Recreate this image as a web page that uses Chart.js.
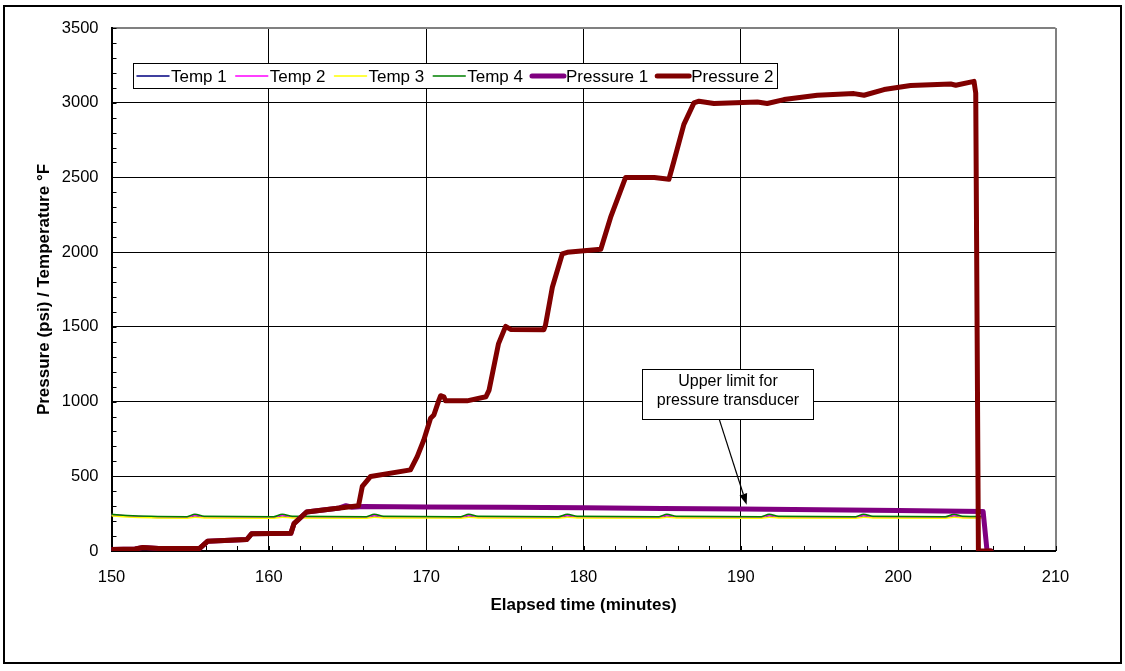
<!DOCTYPE html>
<html>
<head>
<meta charset="utf-8">
<script src="https://cdn.jsdelivr.net/npm/chart.js@4.4.0/dist/chart.umd.min.js"></script>
<style>
  html, body { margin: 0; padding: 0; background: #ffffff; }
  #wrap { width: 1125px; height: 671px; position: relative; }
</style>
</head>
<body>
<div id="wrap"><canvas id="chart" width="1125" height="671"></canvas></div>
<script>
// ---- data ----
const seriesNames = ['Temp 1', 'Temp 2', 'Temp 3', 'Temp 4', 'Pressure 1', 'Pressure 2'];

const tempTime = [150, 151, 152.5, 154.8, 155.3, 155.9, 160.3, 160.85, 161.5, 166.2, 166.7, 167.3,
  172.2, 172.7, 173.3, 178.4, 178.97, 179.6, 184.8, 185.3, 185.9, 191.3, 191.8, 192.4,
  197.3, 197.8, 198.4, 203.0, 203.55, 204.1, 205.5];
const temp1 = [240, 232, 226, 224, 236, 226, 224, 236, 226, 224, 236, 226, 224, 236, 226,
  224, 236, 226, 224, 236, 226, 224, 236, 226, 224, 236, 226, 224, 236, 226, 224];
const temp2 = [244, 234, 228, 226, 240, 228, 226, 240, 228, 226, 240, 228, 226, 240, 228,
  226, 240, 228, 226, 240, 228, 226, 240, 228, 226, 240, 228, 226, 240, 228, 226];
const temp3 = [236, 228, 222, 220, 226, 221, 220, 226, 221, 220, 226, 221, 220, 226, 221,
  220, 226, 221, 220, 226, 221, 220, 226, 221, 220, 226, 221, 220, 226, 221, 220];
const temp4 = [246, 238, 232, 230, 246, 232, 230, 246, 232, 230, 246, 232, 230, 246, 232,
  230, 246, 232, 230, 246, 232, 230, 246, 232, 230, 246, 232, 230, 246, 232, 230];

const p1Time = [150, 151.5, 152, 153, 155.6, 156.1, 158.6, 158.9, 161.4, 161.6, 162.4, 164.5,
  164.9, 165.3, 166, 170, 175, 180, 185, 190, 195, 200, 205.4, 205.65, 205.9];
const p1Psi = [10, 13, 23, 17, 17, 65, 77, 115, 118, 183, 261, 288,
  303, 293, 298, 295, 292, 289, 285, 281, 276, 271, 265, 0, 0];

const p2Time = [150, 151.5, 152, 153, 155.6, 156.1, 158.6, 158.9, 161.4, 161.6, 162.4, 165.7,
  165.94, 166.47, 169.0, 169.43, 169.85, 170.28, 170.49, 170.81, 170.92, 171.13, 171.23, 172.6,
  173.8, 174.0, 174.6, 175.05, 175.37, 177.48, 177.58, 178.02, 178.65, 178.97, 181.1, 181.72,
  182.67, 184.5, 185.43, 185.75, 186.38, 187.02, 187.34, 188.29, 191.05, 191.68, 192.74, 194.86,
  197.19, 197.83, 199.1, 200.79, 203.34, 203.66, 204.82, 204.93, 205.1, 205.9];
const p2Psi = [10, 13, 23, 17, 17, 65, 77, 115, 118, 183, 261, 303,
  432, 499, 543, 632, 743, 888, 910, 1010, 1039, 1032, 1005, 1005,
  1032, 1077, 1388, 1503, 1483, 1481, 1510, 1765, 1988, 1999, 2020, 2232,
  2499, 2499, 2488, 2610, 2855, 2999, 3010, 2995, 3005, 2995, 3021, 3050,
  3061, 3050, 3088, 3115, 3125, 3117, 3143, 3065, 0, 0];

const xTicks = [150, 160, 170, 180, 190, 200, 210];
const yTicks = [0, 500, 1000, 1500, 2000, 2500, 3000, 3500];

const xTitle = 'Elapsed time (minutes)';
const yTitle = 'Pressure (psi) / Temperature °F';
const noteLines = ['Upper limit for', 'pressure transducer'];

// ---- helpers ----
const FONT = 'Arial, "Liberation Sans", sans-serif';
const pairs = (xs, ys) => xs.map((x, i) => ({ x: x, y: ys[i] }));

const colors = ['#000080', '#FF00FF', '#FFFF00', '#008000', '#800080', '#800000'];
const widths = [1.5, 1.5, 1.5, 1.5, 5, 5];

function lineSet(i, xs, ys, order, smooth) {
  return {
    label: seriesNames[i],
    data: pairs(xs, ys),
    borderColor: colors[i],
    backgroundColor: colors[i],
    borderWidth: widths[i],
    pointRadius: 0,
    fill: false,
    tension: smooth ? 0.4 : 0,
    cubicInterpolationMode: smooth ? 'monotone' : 'default',
    borderJoinStyle: 'round',
    borderCapStyle: 'round',
    order: order
  };
}

// Callout text box with an arrow pointing at the Pressure 1 plateau
const note = { x0: 183.74, x1: 194.6, yTop: 1217, yBot: 881, arrowFrom: [188.63, 881], arrowTo: [190.37, 310] };

const decorations = {
  id: 'decorations',
  beforeDraw(chart) {
    const ctx = chart.ctx;
    ctx.save();
    ctx.fillStyle = '#ffffff';
    ctx.fillRect(0, 0, chart.width, chart.height);
    ctx.strokeStyle = '#000000';
    ctx.lineWidth = 2;
    ctx.strokeRect(4, 6, 1117, 657);
    ctx.restore();
  },
  beforeDatasetsDraw(chart) {
    const ctx = chart.ctx;
    const xs = chart.scales.x, ys = chart.scales.y;
    const a = chart.chartArea;
    ctx.save();
    ctx.strokeStyle = '#000000';
    ctx.lineWidth = 1;
    ctx.beginPath();
    for (let v = ys.min; v <= ys.max; v += 100) {
      const py = Math.round(ys.getPixelForValue(v)) + 0.5;
      ctx.moveTo(a.left, py);
      ctx.lineTo(a.left + 5, py);
    }
    for (let v = xs.min; v <= xs.max; v += 2) {
      const px = Math.round(xs.getPixelForValue(v)) + 0.5;
      ctx.moveTo(px, a.bottom);
      ctx.lineTo(px, a.bottom - 5);
    }
    ctx.stroke();
    ctx.restore();
  },
  afterDatasetsDraw(chart) {
    const ctx = chart.ctx;
    const xs = chart.scales.x, ys = chart.scales.y;

    // callout
    const bx0 = Math.round(xs.getPixelForValue(note.x0)) + 0.5;
    const bx1 = Math.round(xs.getPixelForValue(note.x1)) + 0.5;
    const by0 = Math.round(ys.getPixelForValue(note.yTop)) + 0.5;
    const by1 = Math.round(ys.getPixelForValue(note.yBot)) + 0.5;
    ctx.save();
    ctx.fillStyle = '#ffffff';
    ctx.fillRect(bx0, by0, bx1 - bx0, by1 - by0);
    ctx.strokeStyle = '#000000';
    ctx.lineWidth = 1;
    ctx.strokeRect(bx0, by0, bx1 - bx0, by1 - by0);
    ctx.fillStyle = '#000000';
    ctx.font = '16px ' + FONT;
    ctx.textAlign = 'center';
    ctx.textBaseline = 'middle';
    const cx = (bx0 + bx1) / 2;
    ctx.fillText(noteLines[0], cx, by0 + 12.5);
    ctx.fillText(noteLines[1], cx, by0 + 31.5);

    const ax0 = xs.getPixelForValue(note.arrowFrom[0]), ay0 = ys.getPixelForValue(note.arrowFrom[1]);
    const ax1 = xs.getPixelForValue(note.arrowTo[0]), ay1 = ys.getPixelForValue(note.arrowTo[1]);
    const ang = Math.atan2(ay1 - ay0, ax1 - ax0);
    const head = 11, half = 4;
    const bxh = ax1 - head * Math.cos(ang), byh = ay1 - head * Math.sin(ang);
    ctx.beginPath();
    ctx.moveTo(ax0, ay0);
    ctx.lineTo(bxh, byh);
    ctx.lineWidth = 1.2;
    ctx.stroke();
    ctx.beginPath();
    ctx.moveTo(ax1, ay1);
    ctx.lineTo(bxh + half * Math.sin(ang), byh - half * Math.cos(ang));
    ctx.lineTo(bxh - half * Math.sin(ang), byh + half * Math.cos(ang));
    ctx.closePath();
    ctx.fill();

    // legend box
    const lx0 = 133.5, ly0 = 63.5, lx1 = 777.5, ly1 = 88.5;
    ctx.fillStyle = '#ffffff';
    ctx.fillRect(lx0, ly0, lx1 - lx0, ly1 - ly0);
    ctx.strokeStyle = '#000000';
    ctx.lineWidth = 1;
    ctx.strokeRect(lx0, ly0, lx1 - lx0, ly1 - ly0);
    ctx.font = '17px ' + FONT;
    ctx.textAlign = 'left';
    ctx.textBaseline = 'middle';
    const midY = (ly0 + ly1) / 2;
    let x = 137;
    chart.data.datasets.forEach((ds) => {
      ctx.beginPath();
      ctx.strokeStyle = ds.borderColor;
      ctx.lineWidth = ds.borderWidth;
      ctx.lineCap = 'round';
      ctx.moveTo(x, midY);
      ctx.lineTo(x + 32, midY);
      ctx.stroke();
      ctx.fillStyle = '#000000';
      ctx.fillText(ds.label, x + 34, midY + 1);
      x += 34 + ctx.measureText(ds.label).width + 9;
    });
    ctx.restore();
  }
};

const plainNumber = (v) => String(v);

const chart = new Chart(document.getElementById('chart'), {
  type: 'line',
  data: {
    datasets: [
      lineSet(0, tempTime, temp1, 6, true),
      lineSet(1, tempTime, temp2, 5, true),
      lineSet(2, tempTime, temp3, 4, true),
      lineSet(3, tempTime, temp4, 3, true),
      lineSet(4, p1Time, p1Psi, 2, false),
      lineSet(5, p2Time, p2Psi, 1, false)
    ]
  },
  options: {
    responsive: false,
    animation: false,
    parsing: false,
    normalized: true,
    layout: { padding: { left: 8, right: 69.5, top: 28, bottom: 40 } },
    plugins: { legend: { display: false }, tooltip: { enabled: false } },
    scales: {
      x: {
        type: 'linear',
        min: 150, max: 210,
        afterBuildTicks: (s) => { s.ticks = xTicks.map(v => ({ value: v })); },
        afterFit: (s) => { s.height = 80; },
        ticks: { color: '#000', font: { family: FONT, size: 16.5 }, padding: 17, maxRotation: 0, callback: plainNumber },
        grid: {
          drawTicks: false,
          color: (c) => (c.tick && c.tick.value === 210 ? '#808080' : '#000000'),
          lineWidth: (c) => (c.tick && c.tick.value === 210 ? 2 : 1)
        },
        border: { display: true, color: '#000000', width: 2 },
        title: { display: true, text: xTitle, color: '#000', font: { family: FONT, size: 17, weight: 'bold' }, padding: { top: 0, bottom: 15 } }
      },
      y: {
        type: 'linear',
        min: 0, max: 3500,
        afterBuildTicks: (s) => { s.ticks = yTicks.map(v => ({ value: v })); },
        afterFit: (s) => { s.width = 103.5; },
        ticks: { color: '#000', font: { family: FONT, size: 16.5 }, padding: 13, callback: plainNumber },
        grid: {
          drawTicks: false,
          color: (c) => (c.tick && c.tick.value === 3500 ? '#808080' : '#000000'),
          lineWidth: (c) => (c.tick && c.tick.value === 3500 ? 2 : 1)
        },
        border: { display: true, color: '#000000', width: 2 },
        title: { display: true, text: yTitle, color: '#000', font: { family: FONT, size: 17, weight: 'bold' }, padding: { top: 26, bottom: 0 } }
      }
    }
  },
  plugins: [decorations]
});
</script>
</body>
</html>
